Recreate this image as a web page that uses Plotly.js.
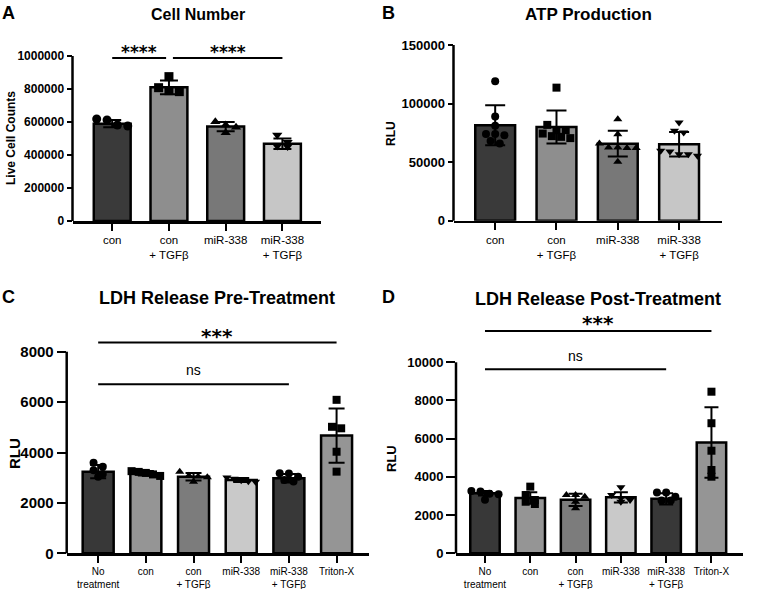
<!DOCTYPE html>
<html><head><meta charset="utf-8">
<script src="https://cdn.plot.ly/plotly-3.0.1.min.js"></script>
<style>html,body{margin:0;padding:0;background:#fff}#chart{width:760px;height:589px}</style>
</head><body><div id="chart"></div>
<script>
// ---------- Panel A: Cell Number ----------
const catsA = ["con", "con<br>+ TGFβ", "miR-338", "miR-338<br>+ TGFβ"];
const meanA = [590000, 810000, 572000, 468000];
const sdA   = [22000, 42000, 28000, 32000];
const ptsA  = [[618000, 612000, 576000, 582000],
               [875000, 808000, 784000, 790000],
               [602000, 582000, 568000, 535000],
               [521000, 478000, 455000, 452000]];
const ticksA = [0, 200000, 400000, 600000, 800000, 1000000];
const sigA = [[0, 1, "****"], [1, 3, "****"]];

// ---------- Panel B: ATP Production ----------
const catsB = ["con", "con<br>+ TGFβ", "miR-338", "miR-338<br>+ TGFβ"];
const meanB = [81500, 80000, 65800, 65300];
const sdB   = [17000, 14000, 11000, 10500];
const ptsB  = [[119000, 89000, 81000, 74000, 73000, 66000, 74000, 68000],
               [113600, 81800, 77300, 71600, 72200, 74400, 77300, 70500],
               [86700, 73900, 62500, 62000, 62000, 62500, 66000, 50300],
               [83800, 75300, 76700, 59700, 55400, 59100, 56800, 56800]];
const ticksB = [0, 50000, 100000, 150000];
const sigB = [];

// ---------- Panel C: LDH Release Pre-Treatment ----------
const catsC = ["No<br>treatment", "con", "con<br>+ TGFβ", "miR-338", "miR-338<br>+ TGFβ", "Triton-X"];
const meanC = [3240, 3175, 3040, 2910, 2980, 4670];
const sdC   = [260, 90, 150, 80, 170, 1080];
const ptsC  = [[3430, 3590, 3300, 3040, 3150],
               [3260, 3230, 3190, 3130, 3070],
               [3240, 3080, 3050, 3020, 2840],
               [3010, 2960, 2900, 2860, 2840],
               [3180, 3170, 3040, 2910, 2850],
               [6090, 4960, 5020, 4030, 3240]];
const ticksC = [0, 2000, 4000, 6000, 8000];
const sigC = [[0, 5, "***"], [0, 4, "ns"]];

// ---------- Panel D: LDH Release Post-Treatment ----------
const catsD = ["No<br>treatment", "con", "con<br>+ TGFβ", "miR-338", "miR-338<br>+ TGFβ", "Triton-X"];
const meanD = [3140, 2900, 2800, 2930, 2850, 5800];
const sdD   = [120, 300, 320, 270, 300, 1840];
const ptsD  = [[3230, 3260, 3120, 3090, 2800],
               [3490, 3050, 2700, 2790, 2580],
               [2960, 3050, 3050, 2360, 2700],
               [3460, 3050, 2880, 2790, 2700],
               [3180, 3180, 2960, 2760, 2760],
               [8460, 6810, 5370, 4010, 4360]];
const ticksD = [0, 2000, 4000, 6000, 8000, 10000];
const sigD = [[0, 5, "***"], [0, 4, "ns"]];

// ---------- styling / layout ----------
const W = 760, H = 589;
const FONT = "Liberation Sans, Arial, sans-serif";
const greys4 = ["#3a3a3a", "#8e8e8e", "#787878", "#c6c6c6"];
const greys6 = ["#383838", "#959595", "#7c7c7c", "#c9c9c9", "#383838", "#959595"];
const sym4 = ["circle", "square", "triangle-up", "triangle-down"];
const sym6 = ["circle", "square", "triangle-up", "triangle-down", "circle", "square"];

const panels = [
  {cats: catsA, mean: meanA, sd: sdA, pts: ptsA, ticks: ticksA, sig: sigA, colors: greys4, syms: sym4,
   box: [72.5, 321, 39.5, 221], xr: [-0.70, 3.68], ymax: 1100000, ytop: 1000000,
   tickSize: 12, ticklen: 5, catSize: 11.5, msize: 9, cap: 9,
   sigLines: [988000, 988000], sigText: [1024000, 1024000], sigFont: [17, 17],
   title: "Cell Number", titleSize: 16, titleXY: [198, 14], letter: "A", letterXY: [8, 13],
   ytitle: "Live Cell Counts", ytitleSize: 12, ytitleXY: [11, 138]},
  {cats: catsB, mean: meanB, sd: sdB, pts: ptsB, ticks: ticksB, sig: sigB, colors: greys4, syms: sym4,
   box: [453.5, 722, 45, 220.7], xr: [-0.68, 3.70], ymax: 150000, ytop: 150000,
   tickSize: 13, ticklen: 5, catSize: 11.5, msize: 8, cap: 10,
   sigLines: [], sigText: [], sigFont: [],
   title: "ATP Production", titleSize: 17, titleXY: [588, 14], letter: "B", letterXY: [388, 13],
   ytitle: "RLU", ytitleSize: 12, ytitleXY: [391, 134]},
  {cats: catsC, mean: meanC, sd: sdC, pts: ptsC, ticks: ticksC, sig: sigC, colors: greys6, syms: sym6,
   box: [66.7, 369, 326.5, 553.3], xr: [-0.66, 5.68], ymax: 9000, ytop: 8000,
   tickSize: 15, ticklen: 9, catSize: 10, msize: 8, cap: 8,
   sigLines: [8370, 6706], sigText: [8611, 7274], sigFont: [20, 14],
   title: "LDH Release Pre-Treatment", titleSize: 18, titleXY: [217, 298], letter: "C", letterXY: [8, 297],
   ytitle: "RLU", ytitleSize: 15, ytitleXY: [14, 453]},
  {cats: catsD, mean: meanD, sd: sdD, pts: ptsD, ticks: ticksD, sig: sigD, colors: greys6, syms: sym6,
   box: [456, 742.7, 308.8, 553.3], xr: [-0.64, 5.69], ymax: 12800, ytop: 10000,
   tickSize: 13, ticklen: 9, catSize: 10, msize: 8, cap: 7,
   sigLines: [11640, 9634], sigText: [12057, 10346], sigFont: [20, 14],
   title: "LDH Release Post-Treatment", titleSize: 18, titleXY: [598, 299], letter: "D", letterXY: [388, 297],
   ytitle: "RLU", ytitleSize: 13, ytitleXY: [391, 459]}
];

function swarm(vals, center, deltaY, stepX, maxOff) {
  const idx = vals.map((v, i) => i).sort((a, b) => vals[b] - vals[a]);
  const xs = new Array(vals.length);
  let g = [];
  const flush = () => {
    const k = g.length;
    const step = k > 1 ? Math.min(stepX, 2 * maxOff / (k - 1)) : 0;
    g.forEach((ii, j) => { xs[ii] = center + (j - (k - 1) / 2) * step; });
    g = [];
  };
  idx.forEach(i => { if (g.length && vals[g[0]] - vals[i] > deltaY) flush(); g.push(i); });
  flush();
  return xs;
}

const data = [];
const layout = {
  width: W, height: H, margin: {l: 0, r: 0, t: 0, b: 0},
  paper_bgcolor: "white", plot_bgcolor: "white", showlegend: false, bargap: 0.35,
  font: {family: FONT, color: "black"}, shapes: [], annotations: []
};

panels.forEach((p, k) => {
  const n = k === 0 ? "" : String(k + 1);
  const xid = "x" + n, yid = "y" + n;
  const [x0, x1, top, bottom] = p.box;
  const idx = p.cats.map((c, i) => i);
  layout["xaxis" + n] = {
    domain: [x0 / W, x1 / W], range: p.xr, anchor: yid,
    tickmode: "array", tickvals: idx, ticktext: p.cats,
    showline: true, linewidth: 2.5, linecolor: "black",
    ticks: "outside", ticklen: 7, tickwidth: 2, tickcolor: "black",
    showgrid: false, zeroline: false,
    tickfont: {size: p.catSize, family: FONT, color: "black"}, fixedrange: true
  };
  layout["yaxis" + n] = {
    domain: [1 - bottom / H, 1 - top / H], range: [0, p.ymax], anchor: xid,
    tickmode: "array", tickvals: p.ticks, tickformat: "d",
    showline: false, ticks: "outside", ticklen: p.ticklen, tickwidth: 2, tickcolor: "black",
    showgrid: false, zeroline: false,
    tickfont: {size: p.tickSize, family: FONT, weight: "bold", color: "black"}, fixedrange: true
  };
  // y axis line only up to the top tick
  layout.shapes.push({type: "line", xref: xid + " domain", yref: yid + " domain",
    x0: 0, x1: 0, y0: 0, y1: p.ytop / p.ymax, line: {color: "black", width: 2.5}});

  data.push({type: "bar", x: idx, y: p.mean, xaxis: xid, yaxis: yid,
    marker: {color: p.colors, line: {color: "black", width: 2.5}},
    error_y: {type: "data", array: p.sd, visible: true, color: "black", thickness: 2, width: p.cap},
    hoverinfo: "skip"});

  const pxPerX = (x1 - x0) / (p.xr[1] - p.xr[0]);
  const pxPerY = (bottom - top) / p.ymax;
  const xs = [], ys = [], syms = [];
  p.pts.forEach((vals, i) => {
    const sx = swarm(vals, i, p.msize * 0.8 / pxPerY, p.msize * 1.15 / pxPerX, 0.3);
    vals.forEach((v, j) => { xs.push(sx[j]); ys.push(v); syms.push(p.syms[i]); });
  });
  data.push({type: "scatter", mode: "markers", x: xs, y: ys, xaxis: xid, yaxis: yid,
    marker: {symbol: syms, size: p.msize, color: "black"}, cliponaxis: false, hoverinfo: "skip"});

  // significance brackets
  p.sig.forEach((s, j) => {
    let a = s[0], b = s[1];
    p.sig.forEach((t, m) => {
      if (m !== j && p.sigLines[m] === p.sigLines[j]) {
        if (t[0] === b) b -= 0.05;
        if (t[1] === a) a += 0.07;
      }
    });
    layout.shapes.push({type: "line", xref: xid, yref: yid, x0: a, x1: b,
      y0: p.sigLines[j], y1: p.sigLines[j], line: {color: "black", width: 2}});
    const isStar = s[2].indexOf("*") >= 0;
    layout.annotations.push({xref: xid, yref: yid, x: (a + b) / 2, y: p.sigText[j], text: s[2],
      showarrow: false, xanchor: "center", yanchor: "middle",
      font: {family: isStar ? "DejaVu Sans, sans-serif" : FONT, size: p.sigFont[j],
             weight: isStar ? "bold" : "normal", color: "black"}});
  });

  layout.annotations.push({xref: "paper", yref: "paper", x: p.titleXY[0] / W, y: 1 - p.titleXY[1] / H,
    text: p.title, showarrow: false, xanchor: "center", yanchor: "middle",
    font: {size: p.titleSize, weight: "bold", family: FONT, color: "black"}});
  layout.annotations.push({xref: "paper", yref: "paper", x: p.letterXY[0] / W, y: 1 - p.letterXY[1] / H,
    text: p.letter, showarrow: false, xanchor: "center", yanchor: "middle",
    font: {size: 18, weight: "bold", family: FONT, color: "black"}});
  layout.annotations.push({xref: "paper", yref: "paper", x: p.ytitleXY[0] / W, y: 1 - p.ytitleXY[1] / H,
    text: p.ytitle, showarrow: false, xanchor: "center", yanchor: "middle", textangle: -90,
    font: {size: p.ytitleSize, weight: "bold", family: FONT, color: "black"}});
});

Plotly.newPlot("chart", data, layout, {staticPlot: true, displayModeBar: false});
</script>
</body></html>
